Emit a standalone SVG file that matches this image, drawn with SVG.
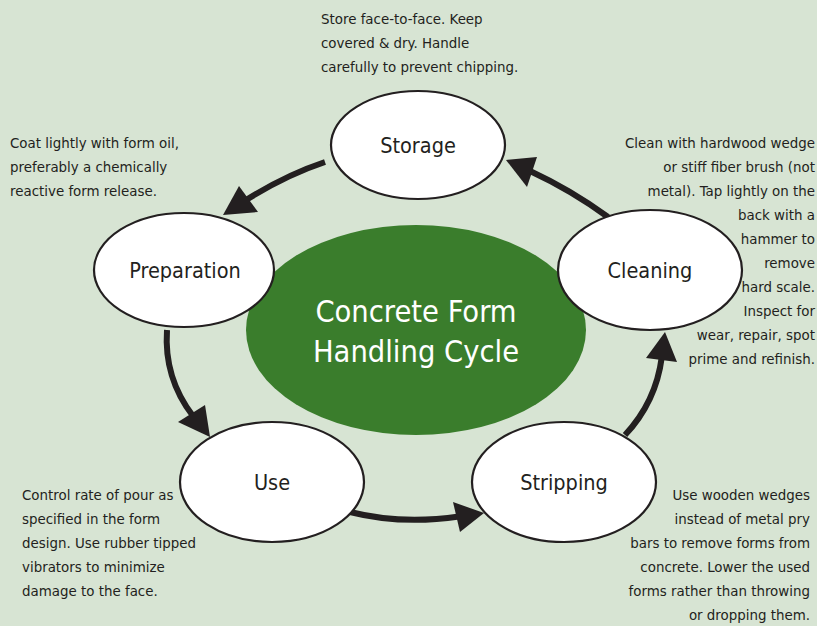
<svg xmlns="http://www.w3.org/2000/svg" width="817" height="626" viewBox="0 0 817 626">
<style>
.bg{fill:#d7e4d3}
.node{fill:#ffffff;stroke:#231f20;stroke-width:2.2}
.lbl{font-family:"DejaVu Sans Condensed","DejaVu Sans",sans-serif;font-size:21.5px;fill:#231f20;text-anchor:middle}
.note{font-family:"DejaVu Sans Condensed","DejaVu Sans",sans-serif;font-size:14.9px;fill:#231f20}
.r{text-anchor:end}
.ctr{font-family:"DejaVu Sans Condensed","DejaVu Sans",sans-serif;font-size:30.5px;fill:#ffffff;text-anchor:middle}
.conn{fill:none;stroke:#231f20;stroke-width:6}
.head{fill:#231f20}
</style>
<rect class="bg" x="0" y="0" width="817" height="626"/>
<g id="center">
<ellipse cx="416" cy="330" rx="170" ry="105" fill="#3a7d2c"/>
<text class="ctr" x="416" y="322">Concrete Form</text>
<text class="ctr" x="416" y="362">Handling Cycle</text>
</g>
<g id="connectors">
<path class="conn" d="M325,162 Q286,175 246,200"/>
<polygon class="head" points="223,215 239,186 258,212"/>
<path class="conn" d="M608,217 Q571,190 530,171"/>
<polygon class="head" points="506,160 537,157 527,187"/>
<path class="conn" d="M167,330 Q163.75,378 193,416"/>
<polygon class="head" points="210,437 178,422 205,405"/>
<path class="conn" d="M350,512 Q401.5,525 459,516.5"/>
<polygon class="head" points="484,513 453,502 460,532"/>
<path class="conn" d="M625,435 Q656,402 661.8,357"/>
<polygon class="head" points="665,332 646,358 677,362"/>
</g>
<g id="storage">
<ellipse class="node" cx="418" cy="145" rx="87" ry="54"/>
<text class="lbl" x="418" y="153">Storage</text>
</g>
<g id="preparation">
<ellipse class="node" cx="184" cy="270" rx="90" ry="57"/>
<text class="lbl" x="185" y="278">Preparation</text>
</g>
<g id="cleaning">
<ellipse class="node" cx="650" cy="270" rx="92" ry="60"/>
<text class="lbl" x="650" y="278">Cleaning</text>
</g>
<g id="use">
<ellipse class="node" cx="272" cy="482" rx="92" ry="60"/>
<text class="lbl" x="272" y="490">Use</text>
</g>
<g id="stripping">
<ellipse class="node" cx="564" cy="482" rx="92" ry="60"/>
<text class="lbl" x="564" y="490">Stripping</text>
</g>
<g id="note-storage">
<text class="note" x="321" y="24">Store face-to-face. Keep</text>
<text class="note" x="321" y="48">covered &amp; dry. Handle</text>
<text class="note" x="321" y="72">carefully to prevent chipping.</text>
</g>
<g id="note-preparation">
<text class="note" x="10" y="148">Coat lightly with form oil,</text>
<text class="note" x="10" y="172">preferably a chemically</text>
<text class="note" x="10" y="196">reactive form release.</text>
</g>
<g id="note-cleaning">
<text class="note r" x="815" y="148">Clean with hardwood wedge</text>
<text class="note r" x="815" y="172">or stiff fiber brush (not</text>
<text class="note r" x="815" y="196">metal). Tap lightly on the</text>
<text class="note r" x="815" y="220">back with a</text>
<text class="note r" x="815" y="244">hammer to</text>
<text class="note r" x="815" y="268">remove</text>
<text class="note r" x="815" y="292">hard scale.</text>
<text class="note r" x="815" y="316">Inspect for</text>
<text class="note r" x="815" y="340">wear, repair, spot</text>
<text class="note r" x="815" y="364">prime and refinish.</text>
</g>
<g id="note-use">
<text class="note" x="22" y="500">Control rate of pour as</text>
<text class="note" x="22" y="524">specified in the form</text>
<text class="note" x="22" y="548">design. Use rubber tipped</text>
<text class="note" x="22" y="572">vibrators to minimize</text>
<text class="note" x="22" y="596">damage to the face.</text>
</g>
<g id="note-stripping">
<text class="note r" x="810" y="500">Use wooden wedges</text>
<text class="note r" x="810" y="524">instead of metal pry</text>
<text class="note r" x="810" y="548">bars to remove forms from</text>
<text class="note r" x="810" y="572">concrete. Lower the used</text>
<text class="note r" x="810" y="596">forms rather than throwing</text>
<text class="note r" x="810" y="620">or dropping them.</text>
</g>
</svg>
